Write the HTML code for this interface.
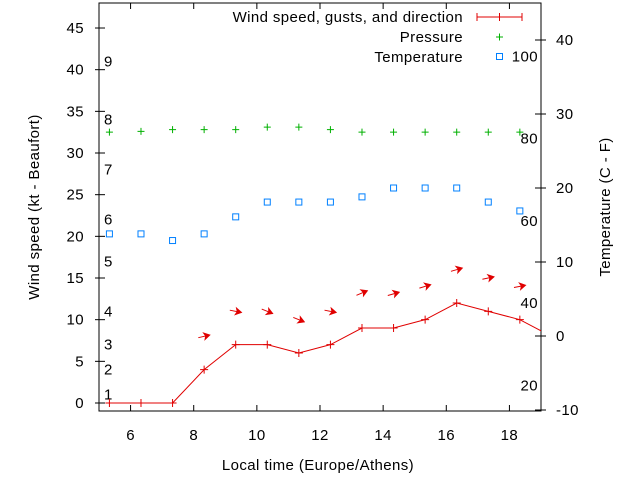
<!DOCTYPE html>
<html><head><meta charset="utf-8"><style>
html,body{margin:0;padding:0;background:#fff}
text{font-family:"Liberation Sans",sans-serif;font-size:15px;letter-spacing:0.4px;fill:#000}
</style></head><body>
<svg width="640" height="480" xmlns="http://www.w3.org/2000/svg">
<defs><clipPath id="clip"><rect x="99" y="3" width="442" height="408"/></clipPath></defs>
<rect x="0" y="0" width="640" height="480" fill="#fff"/>
<g id="axes"></g>
<g id="plot" clip-path="url(#clip)"></g>
<g id="legend">
 <text x="463" y="22" text-anchor="end">Wind speed, gusts, and direction</text>
 <g stroke="#e00000" stroke-width="1">
  <line x1="477" y1="17" x2="522" y2="17"/><line x1="477" y1="13" x2="477" y2="21"/><line x1="522" y1="13" x2="522" y2="21"/><line x1="499.5" y1="13" x2="499.5" y2="21"/>
 </g>
 <text x="463" y="42" text-anchor="end">Pressure</text>
 <g stroke="#00b000"><line x1="496" y1="37" x2="503" y2="37"/><line x1="499.5" y1="33.5" x2="499.5" y2="40.5"/></g>
 <text x="463" y="62" text-anchor="end">Temperature</text>
 <rect x="496.5" y="53.5" width="6" height="6" fill="none" stroke="#0080ff"/>
</g>
<text x="0" y="0" transform="translate(39,207) rotate(-90)" text-anchor="middle">Wind speed (kt - Beaufort)</text>
<text x="0" y="0" transform="translate(610,207) rotate(-90)" text-anchor="middle">Temperature (C - F)</text>
<text x="318" y="470" text-anchor="middle">Local time (Europe/Athens)</text>
</svg>
<script>
const times=[5.33,6.33,7.33,8.33,9.33,10.33,11.33,12.33,13.33,14.33,15.33,16.33,17.33,18.33,19.33];
const windSpeed=[0,0,0,4,7,7,6,7,9,9,10,12,11,10,8];
const gustTimes=[8.33,9.33,10.33,11.33,12.33,13.33,14.33,15.33,16.33,17.33,18.33];
const gustValues=[8,11,11,10,11,13.2,13.1,14,16,15,14];
const gustAngles=[13,-11,-22,-22,-11,23,16,17,16,12,11];
const pressTimes=[5.33,6.33,7.33,8.33,9.33,10.33,11.33,12.33,13.33,14.33,15.33,16.33,17.33,18.33];
const pressure=[32.5,32.6,32.8,32.8,32.8,33.1,33.1,32.8,32.5,32.5,32.5,32.5,32.5,32.5];
const tempTimes=[5.33,6.33,7.33,8.33,9.33,10.33,11.33,12.33,13.33,14.33,15.33,16.33,17.33,18.33];
const temperature=[13.8,13.8,12.9,13.8,16.1,18.1,18.1,18.1,18.8,20,20,20,18.1,16.9];
const xTicks=[6,8,10,12,14,16,18];
const yTicks=[0,5,10,15,20,25,30,35,40,45];
const y2Ticks=[-10,0,10,20,30,40];
const beaufortKt=[1,4,7,11,17,22,28,34,41];
const beaufortLabels=["1","2","3","4","5","6","7","8","9"];
const fahrenheit=[20,40,60,80,100];

const L=99,R=541,T=3,B=411;
const X=t=>L+(t-5)*(R-L)/14;
const Y=v=>403-v*8.333;
const Y2=c=>336-c*7.4;
const NS="http://www.w3.org/2000/svg";
function mk(tag,attrs,parent,txt){const e=document.createElementNS(NS,tag);for(const k in attrs)e.setAttribute(k,attrs[k]);if(txt!==undefined)e.textContent=txt;parent.appendChild(e);return e;}
const ax=document.getElementById('axes'),pl=document.getElementById('plot');

let frame=mk('rect',{x:L,y:T,width:R-L,height:B-T,fill:'none',stroke:'#000','stroke-width':1},ax);


xTicks.forEach(t=>{const x=X(t);
 mk('line',{x1:x,y1:B,x2:x,y2:B-6,stroke:'#000'},ax);
 mk('line',{x1:x,y1:T,x2:x,y2:T+6,stroke:'#000'},ax);
 const tx=mk('text',{x:x,y:440,'text-anchor':'middle'},ax,String(t));
 
 
});
yTicks.forEach(v=>{const y=Y(v);
 mk('line',{x1:L-4,y1:y,x2:L+6,y2:y,stroke:'#000'},ax);
 const tx=mk('text',{x:84,y:y+5,'text-anchor':'end'},ax,String(v));
 
 
});
y2Ticks.forEach(c=>{const y=Y2(c);
 mk('line',{x1:R-6,y1:y,x2:R+5,y2:y,stroke:'#000'},ax);
 const tx=mk('text',{x:556,y:y+5,'text-anchor':'start'},ax,String(c));
 
 
});
beaufortKt.forEach((k,i)=>{
 const tx=mk('text',{x:104,y:Y(k)+5},ax,beaufortLabels[i]);
 
 
});
fahrenheit.forEach(f=>{
 const tx=mk('text',{x:538,y:Y2((f-32)*5/9)+5,'text-anchor':'end'},ax,String(f));
 
 
});

const pts=times.map((t,i)=>X(t)+','+Y(windSpeed[i])).join(' ');
const wl=mk('polyline',{points:pts,fill:'none',stroke:'#e00000','stroke-width':1},pl);


times.forEach((t,i)=>{const x=X(t),y=Y(windSpeed[i]);
 const g=mk('path',{d:`M${x-4},${y}H${x+4}M${x},${y-4}V${y+4}`,stroke:'#e00000'},pl);
 
 
});
gustTimes.forEach((t,i)=>{const x=X(t),y=Y(gustValues[i]);
 const g=mk('g',{transform:`translate(${x},${y}) rotate(${-gustAngles[i]})`},pl);
 
 
 mk('line',{x1:-6,y1:0,x2:4,y2:0,stroke:'#e00000','stroke-width':1},g);
 mk('path',{d:'M6,0 L0,-3.5 L1.5,0 L0,3.5 Z',fill:'#e00000',stroke:'#e00000','stroke-width':0.8},g);
});
pressTimes.forEach((t,i)=>{const x=X(t),y=Y(pressure[i]);
 const p=mk('path',{d:`M${x-3.5},${y}H${x+3.5}M${x},${y-3.5}V${y+3.5}`,stroke:'#00b000'},pl);
 
 
});
tempTimes.forEach((t,i)=>{const x=X(t),y=Y2(temperature[i]);
 const r=mk('rect',{x:x-3,y:y-3,width:6,height:6,fill:'none',stroke:'#0080ff'},pl);
 
 
});
</script>
</body></html>
